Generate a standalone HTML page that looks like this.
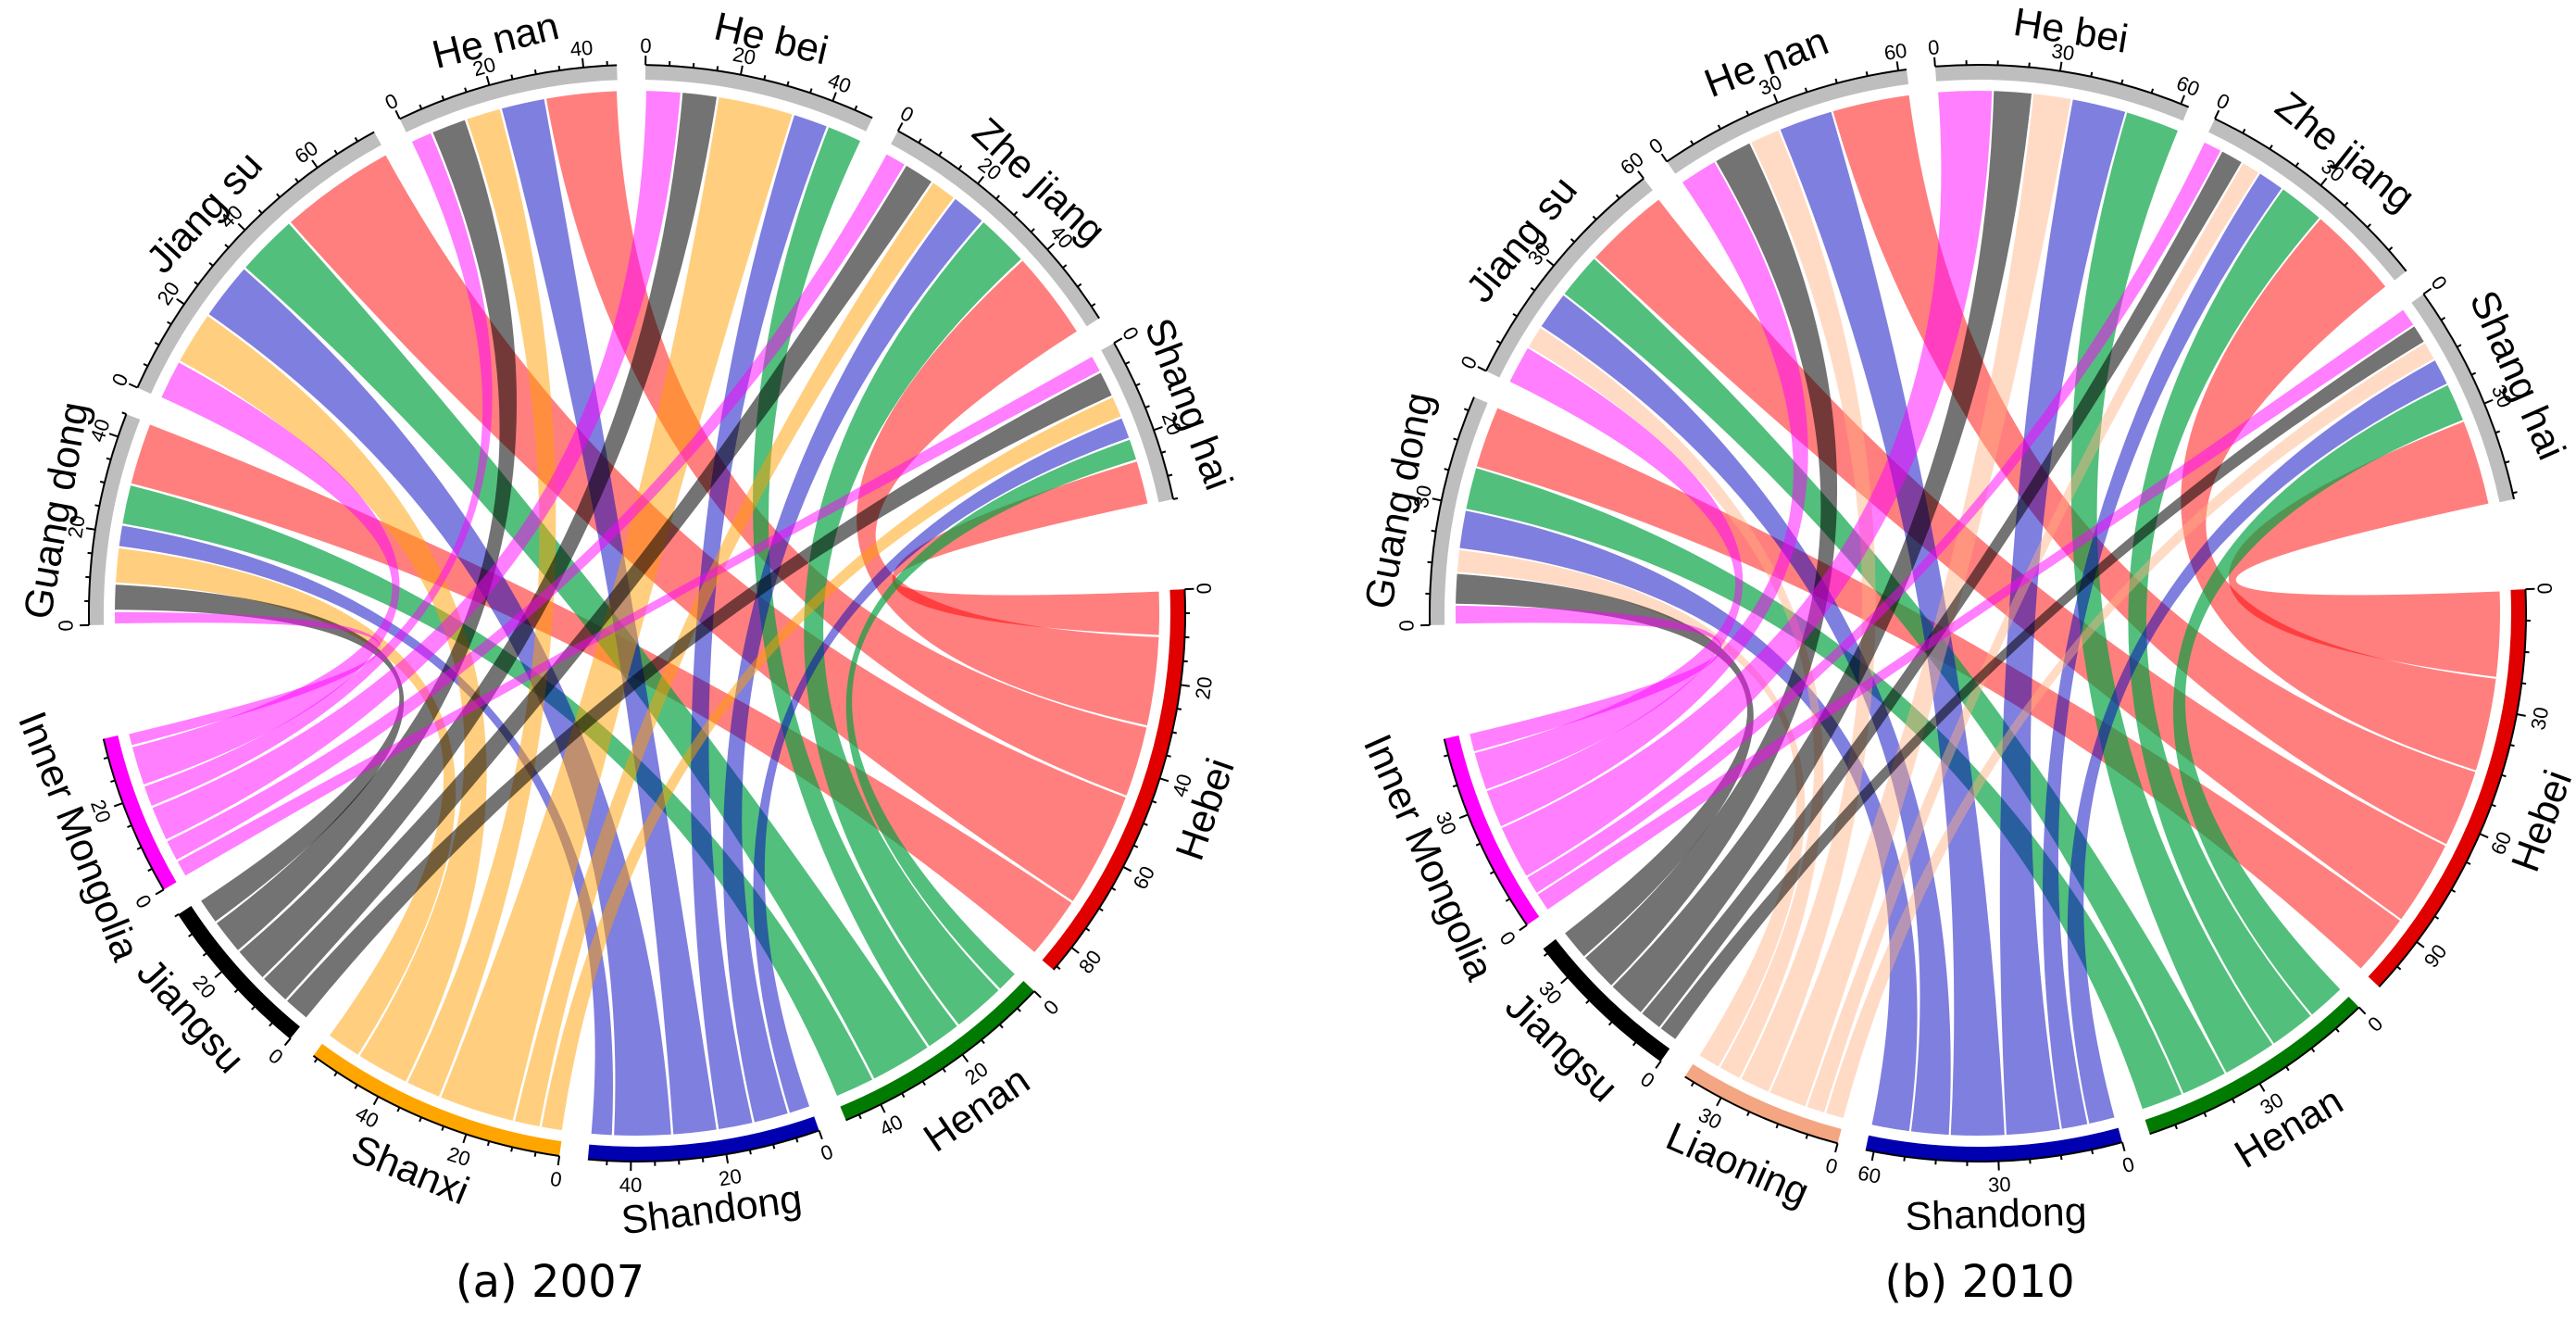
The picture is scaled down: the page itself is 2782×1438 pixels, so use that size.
<!DOCTYPE html>
<html><head><meta charset="utf-8"><style>
html,body{margin:0;padding:0;background:#fff;}
svg{display:block;font-family:"Liberation Sans",sans-serif;}
</style></head><body>
<svg id="root" width="2782" height="1438" viewBox="0 0 2782 1438">
<text x="594" y="1400" font-size="48" text-anchor="middle" font-family="DejaVu Sans, Liberation Sans, sans-serif">(a) 2007</text>
<text x="2138" y="1400" font-size="48" text-anchor="middle" font-family="DejaVu Sans, Liberation Sans, sans-serif">(b) 2010</text>
</svg>
<script>
// destinations (shared)
const dests = ["Guang dong","Jiang su","He nan","He bei","Zhe jiang","Shang hai"];
// 2007
const origins2007 = ["Hebei","Henan","Shandong","Shanxi","Jiangsu","Inner Mongolia"];
const hebei2007 = [14,26,16,0,20,10];
const henan2007 = [9,14,0,8,12,5];
const shandong2007 = [5,13,10,8,8,5];
const shanxi2007 = [8,12,8,17,6,5];
const jiangsu2007 = [6,0,8,8,7,6];
const mongolia2007 = [3,9,5,8,5,4];
const ticks2007 = 20;
// 2010
const origins2010 = ["Hebei","Henan","Shandong","Liaoning","Jiangsu","Inner Mongolia"];
const hebei2010 = [16,22,20,0,24,22];
const henan2010 = [11,12,0,14,12,10];
const shandong2010 = [10,10,14,14,7,7];
const liaoning2010 = [6,6,8,10,5,5];
const jiangsu2010 = [8,0,10,10,6,5];
const mongolia2010 = [5,10,10,14,5,5];
const ticks2010 = 30;

const NS="http://www.w3.org/2000/svg";
const root=document.getElementById('root');
function mk(tag,attrs,parent){const e=document.createElementNS(NS,tag);for(const k in attrs)e.setAttribute(k,attrs[k]);(parent||root).appendChild(e);return e;}
function pol(cx,cy,r,a){const t=a*Math.PI/180;return [cx+r*Math.cos(t),cy+r*Math.sin(t)];}
function lower(a){a=((a%360)+360)%360;return a>0&&a<180;}
function rot(a){return lower(a)?a-90:a+90;}

function drawChord(cfg){
  const {cx,cy,origins,matrix,trackCols,chordCols,chordOps,major,id}=cfg;
  const R=592,TR=16,CR=564;
  const g=mk('g',{},root);
  
  
  const rowSum=matrix.map(r=>r.reduce((a,b)=>a+b,0));
  const colSum=dests.map((d,j)=>matrix.reduce((a,r)=>a+r[j],0));
  const sizes=rowSum.concat(colSum);
  const names=origins.concat(dests);
  const gaps=[3,3,3,3,3,12,3,3,3,3,3,9.5];
  const gsum=gaps.reduce((a,b)=>a+b,0);
  const total=sizes.reduce((a,b)=>a+b,0);
  const k=(360-gsum)/total;
  const start=[];let a=-2.5;
  for(let i=0;i<12;i++){start.push(a);a+=sizes[i]*k+gaps[i];}
  const oStart=[],dStart=[];
  for(let i=0;i<6;i++){oStart.push([]);let c=0;for(let j=5;j>=0;j--){oStart[i][j]=c;c+=matrix[i][j];}}
  for(let j=0;j<6;j++){dStart.push([]);let c=0;for(let i=5;i>=0;i--){dStart[j][i]=c;c+=matrix[i][j];}}
  const cg=mk('g',{},g);
  
  
  const sh=0.25;
  for(let i=0;i<6;i++)for(let j=0;j<6;j++){
    const v=matrix[i][j]; if(v<=0)continue;
    const a1=start[i]+(oStart[i][j]+sh)*k, a2=start[i]+(oStart[i][j]+v-sh)*k;
    const b1=start[6+j]+(dStart[j][i]+sh)*k, b2=start[6+j]+(dStart[j][i]+v-sh)*k;
    const p1=pol(cx,cy,CR,a1),p2=pol(cx,cy,CR,a2),q1=pol(cx,cy,CR,b1),q2=pol(cx,cy,CR,b2);
    const d=`M${p1} A${CR} ${CR} 0 0 1 ${p2} Q${cx} ${cy} ${q1} A${CR} ${CR} 0 0 1 ${q2} Q${cx} ${cy} ${p1} Z`;
    const p=mk('path',{d:d,fill:chordCols[i],'fill-opacity':chordOps[i]},cg);
    
    
  }
  for(let s=0;s<12;s++){
    const a0=start[s],a1=start[s]+sizes[s]*k;
    const col=s<6?trackCols[s]:'#bebebe';
    const o1=pol(cx,cy,R,a0),o2=pol(cx,cy,R,a1),i1=pol(cx,cy,R-TR,a1),i2=pol(cx,cy,R-TR,a0);
    const tr=mk('path',{d:`M${o1} A${R} ${R} 0 0 1 ${o2} L${i1} A${R-TR} ${R-TR} 0 0 0 ${i2} Z`,fill:col},g);
    
    
    const ax=mk('path',{d:`M${o1} A${R} ${R} 0 0 1 ${o2}`,fill:'none',stroke:'#000','stroke-width':2},g);
    
    
    const minor=major/4;
    for(let t=0;t<=sizes[s]+0.001;t+=minor){
      const an=a0+t*k, isMaj=Math.abs(t/major-Math.round(t/major))<1e-6;
      const u=pol(cx,cy,R,an),w=pol(cx,cy,R+(isMaj?10:5),an);
      const tk=mk('line',{x1:u[0],y1:u[1],x2:w[0],y2:w[1],stroke:'#000','stroke-width':2},g);
      
      
      if(isMaj){
        const lp=pol(cx,cy,R+(lower(an)?27:19),an);
        const tl=mk('text',{x:lp[0],y:lp[1],'font-size':22,'text-anchor':'middle','dominant-baseline':'middle',transform:`rotate(${rot(an)} ${lp[0]} ${lp[1]})`},g);
        tl.textContent=String(Math.round(t));
        
        
      }
    }
    const mid=(a0+a1)/2, np=pol(cx,cy,R+(lower(mid)?60:42),mid);
    const nt=mk('text',{x:np[0],y:np[1],'font-size':43,'text-anchor':'middle','dominant-baseline':'middle',transform:`rotate(${rot(mid)} ${np[0]} ${np[1]})`},g);
    nt.textContent=names[s];
    
    
  }
}
drawChord({cx:688,cy:662,id:'chord-2007',origins:origins2007,
  matrix:[hebei2007,henan2007,shandong2007,shanxi2007,jiangsu2007,mongolia2007],
  trackCols:['#e00000','#007a00','#0000b0','#ffa500','#000000','#ff00ff'],
  chordCols:['#ff0000','#00a040','#0000c0','#ffa000','#000000','#ff00ff'],
  chordOps:[0.5,0.68,0.5,0.5,0.55,0.5],major:ticks2007});
drawChord({cx:2136,cy:662,id:'chord-2010',origins:origins2010,
  matrix:[hebei2010,henan2010,shandong2010,liaoning2010,jiangsu2010,mongolia2010],
  trackCols:['#e00000','#007a00','#0000b0','#f4a582','#000000','#ff00ff'],
  chordCols:['#ff0000','#00a040','#0000c0','#ffb080','#000000','#ff00ff'],
  chordOps:[0.5,0.68,0.5,0.45,0.55,0.5],major:ticks2010});
</script>
</body></html>
